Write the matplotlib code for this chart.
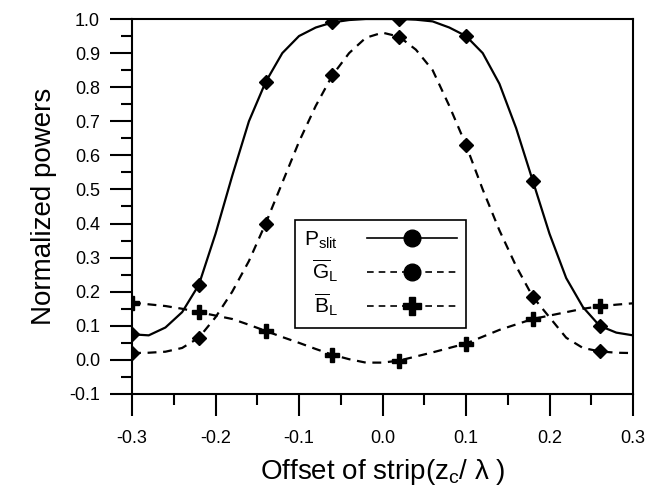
import matplotlib
matplotlib.use("Agg")
import matplotlib.pyplot as plt
from matplotlib.lines import Line2D
from matplotlib.ticker import MultipleLocator

# ==================== data ====================
offset = [-0.30, -0.28, -0.26, -0.24, -0.22, -0.20, -0.18, -0.16, -0.14, -0.12,
          -0.10, -0.08, -0.06, -0.04, -0.02, 0.00, 0.02, 0.04, 0.06, 0.08,
          0.10, 0.12, 0.14, 0.16, 0.18, 0.20, 0.22, 0.24, 0.26, 0.28, 0.30]

p_slit = [0.075, 0.072, 0.095, 0.14, 0.22, 0.37, 0.54, 0.70, 0.815, 0.90,
          0.95, 0.975, 0.99, 0.997, 1.0, 1.0, 1.0, 0.998, 0.993, 0.975,
          0.95, 0.90, 0.81, 0.68, 0.525, 0.37, 0.24, 0.155, 0.10, 0.08, 0.072]

g_l = [0.02, 0.021, 0.024, 0.035, 0.065, 0.125, 0.20, 0.29, 0.40, 0.52,
       0.64, 0.745, 0.835, 0.90, 0.945, 0.96, 0.948, 0.91, 0.85, 0.745,
       0.63, 0.50, 0.38, 0.275, 0.185, 0.125, 0.065, 0.035, 0.025, 0.021, 0.02]

b_l = [0.168, 0.163, 0.158, 0.15, 0.14, 0.13, 0.12, 0.103, 0.085, 0.067,
       0.05, 0.032, 0.015, 0.002, -0.008, -0.008, -0.002, 0.01, 0.022, 0.035,
       0.048, 0.068, 0.088, 0.104, 0.12, 0.13, 0.14, 0.15, 0.157, 0.162, 0.166]

labels = [r"P$_{\mathrm{slit}}$", r"$\overline{\mathrm{G}}_{\mathrm{L}}$",
          r"$\overline{\mathrm{B}}_{\mathrm{L}}$"]

# ==================== style ====================
plt.rcParams["font.family"] = ["Liberation Sans", "DejaVu Sans"]
plt.rcParams["mathtext.fontset"] = "custom"
plt.rcParams["mathtext.rm"] = "Liberation Sans"
plt.rcParams["mathtext.it"] = "Liberation Sans:italic"

DASH = (4, 3)
MARK_EVERY = 4

fig = plt.figure(figsize=(6.45, 4.91), dpi=100)
ax = fig.add_axes([0.2047, 0.1976, 0.7767, 0.7637])

ax.plot(offset, p_slit, "k-", lw=1.6, marker="D", ms=7.5, markevery=MARK_EVERY)
ax.plot(offset, g_l, "k--", lw=1.6, dashes=DASH, marker="D", ms=7.5,
        markevery=MARK_EVERY)
ax.plot(offset, b_l, "k--", lw=1.6, dashes=DASH, marker="P", ms=10,
        markevery=MARK_EVERY)

ax.set_xlim(-0.3, 0.3)
ax.set_ylim(-0.1, 1.0)
ax.xaxis.set_major_locator(MultipleLocator(0.1))
ax.xaxis.set_minor_locator(MultipleLocator(0.05))
ax.yaxis.set_major_locator(MultipleLocator(0.1))
ax.yaxis.set_minor_locator(MultipleLocator(0.05))
ax.xaxis.set_major_formatter(lambda v, p: f"{v:.1f}".replace("-0.0", "0.0"))
ax.yaxis.set_major_formatter(lambda v, p: f"{v:.1f}".replace("-0.0", "0.0"))

ax.tick_params(which="major", direction="out", length=16, width=1.5,
               labelsize=13, colors="black")
ax.tick_params(which="minor", direction="out", length=8, width=1.5)
ax.tick_params(axis="x", which="major", pad=10)
ax.tick_params(axis="y", which="major", pad=7)
for s in ax.spines.values():
    s.set_linewidth(1.5)

ax.set_xlabel("Offset of strip(z$_{\\mathrm{c}}$/ λ )", fontsize=20, labelpad=7)
ax.set_ylabel("Normalized powers", fontsize=20, labelpad=9)

handles = [
    Line2D([], [], color="k", lw=1.2, marker="o", ms=12),
    Line2D([], [], color="k", lw=1.2, ls="--", dashes=(4, 3), marker="o", ms=12),
    Line2D([], [], color="k", lw=1.2, ls="--", dashes=(4, 3), marker="P", ms=13),
]
leg = ax.legend(handles, labels, loc="upper left", bbox_to_anchor=(0.325, 0.464),
                markerfirst=False, fontsize=15, handlelength=4.3,
                labelspacing=0.35, borderpad=0.45, handletextpad=1.4,
                borderaxespad=0, fancybox=False, framealpha=1, edgecolor="black")
leg.get_frame().set_linewidth(1.2)

fig.savefig("out.png", dpi=100)
